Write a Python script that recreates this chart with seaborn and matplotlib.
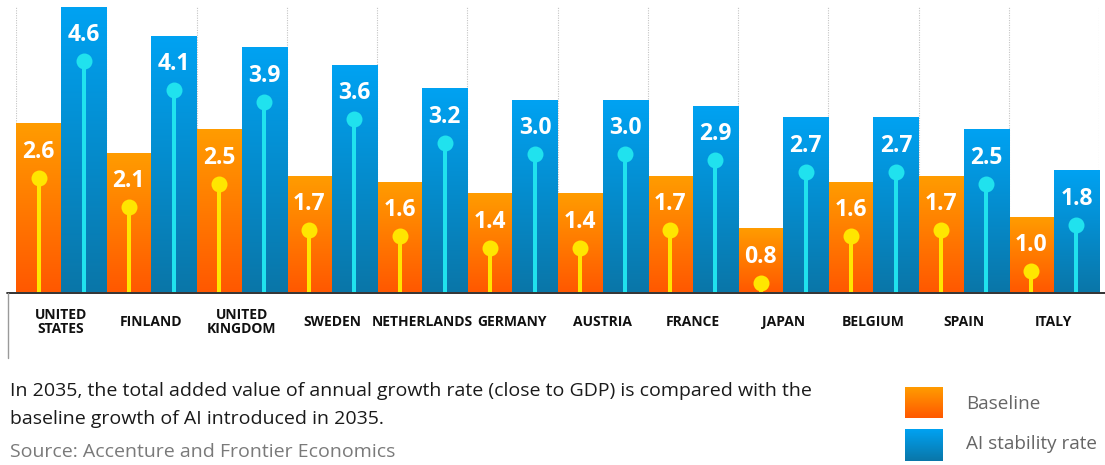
import numpy as np
import pandas as pd
import matplotlib
matplotlib.use("Agg")
import matplotlib.pyplot as plt
import seaborn as sns
from matplotlib.colors import LinearSegmentedColormap, to_rgba
from matplotlib.transforms import ScaledTranslation
from matplotlib.lines import Line2D

# ---------------- data ----------------
countries = ["UNITED\nSTATES", "FINLAND", "UNITED\nKINGDOM", "SWEDEN", "NETHERLANDS",
             "GERMANY", "AUSTRIA", "FRANCE", "JAPAN", "BELGIUM", "SPAIN", "ITALY"]
baseline = [2.6, 2.1, 2.5, 1.7, 1.6, 1.4, 1.4, 1.7, 0.8, 1.6, 1.7, 1.0]
ai_rate = [4.6, 4.1, 3.9, 3.6, 3.2, 3.0, 3.0, 2.9, 2.7, 2.7, 2.5, 1.8]
series = ["Baseline", "AI stability rate"]

caption_lines = ["In 2035, the total added value of annual growth rate (close to GDP) is compared with the",
                 "baseline growth of AI introduced in 2035."]
source_text = "Source: Accenture and Frontier Economics"

df = pd.DataFrame({
    "country": countries * 2,
    "series": [series[0]] * len(countries) + [series[1]] * len(countries),
    "value": baseline + ai_rate,
})

# ---------------- style ----------------
base_colors = {"Baseline": "#FF7A00", "AI stability rate": "#0090D8"}
grad_cmaps = {
    "Baseline": LinearSegmentedColormap.from_list("org", ["#FF5800", "#FF9C00"]),
    "AI stability rate": LinearSegmentedColormap.from_list("blu", ["#0A76A8", "#00A2F2"]),
}
stem_colors = {"Baseline": "#FFE600", "AI stability rate": "#20E2EE"}

sns.set_theme(style="white")
plt.rcParams["font.family"] = ["Open Sans", "DejaVu Sans"]

W, H = 1105, 465
fig = plt.figure(figsize=(W / 100, H / 100), dpi=100)
ax = fig.add_axes([16 / W, 1 - 292 / H, (1099 - 16) / W, 285 / H])

sns.barplot(data=df, x="country", y="value", hue="series", order=countries,
            hue_order=series, palette=[base_colors[s] for s in series],
            width=1.0, gap=0, saturation=1, errorbar=None, legend=False, ax=ax)

YMIN = -0.28
grad = np.linspace(0, 1, 256).reshape(-1, 1)
lab_off = ax.transData + ScaledTranslation(0, -0.28, fig.dpi_scale_trans)
dot_off = ax.transData + ScaledTranslation(0, -0.54, fig.dpi_scale_trans)

patches = list(ax.patches)
for p in patches:
    fc = p.get_facecolor()
    s = min(series, key=lambda k: np.sum((np.array(to_rgba(base_colors[k])) - np.array(fc)) ** 2))
    x0, w = p.get_x(), p.get_width()
    top = p.get_y() + p.get_height()
    xc = x0 + w / 2
    ax.imshow(grad, extent=[x0, x0 + w, YMIN, top], origin="lower", cmap=grad_cmaps[s],
              aspect="auto", zorder=2, interpolation="bilinear")
    p.set_visible(False)
    ax.plot([xc, xc], [YMIN, top], transform=dot_off, color=stem_colors[s],
            lw=2.9, solid_capstyle="butt", zorder=3, clip_on=True)
    ax.plot([xc], [top], transform=dot_off, marker="o", ms=11.5, color=stem_colors[s],
            mec="none", zorder=4, clip_on=False)
    ax.text(xc, top, f"{top:.1f}", transform=lab_off, ha="center", va="center",
            color="white", fontsize=16.5, fontweight="bold", zorder=5)

for b in np.arange(-0.5, len(countries), 1.0):
    ax.axvline(b, color="#c4c4c4", ls=(0, (1, 1.2)), lw=0.8, zorder=0)

ax.set_ylim(YMIN, max(ai_rate))
ax.set_xlim(-0.5, len(countries) - 0.5)
ax.set_yticks([])
ax.set_xlabel("")
ax.set_ylabel("")
for sp in ax.spines.values():
    sp.set_visible(False)
ax.tick_params(axis="x", length=0, pad=21.6)
for lab in ax.get_xticklabels():
    lab.set_fontweight("bold")
    lab.set_fontsize(10)
    lab.set_color("#111111")
    lab.set_va("center")
    lab.set_linespacing(1.05)

# frame lines
fig.add_artist(Line2D([7 / W, 1.0], [1 - 292.5 / H, 1 - 292.5 / H], color="#222222", lw=1.3))
fig.add_artist(Line2D([7.5 / W, 7.5 / W], [1 - 292.5 / H, 1 - 358 / H], color="#9a9a9a", lw=1.0))

# caption
fig.text(10 / W, 1 - 391 / H, caption_lines[0], ha="left", va="center", fontsize=14, color="#1a1a1a")
fig.text(10 / W, 1 - 419 / H, caption_lines[1], ha="left", va="center", fontsize=14, color="#1a1a1a")
fig.text(10 / W, 1 - 452 / H, source_text, ha="left", va="center", fontsize=14, color="#7a7a7a")

# legend with gradient swatches
sw_y = {"Baseline": (387, 418), "AI stability rate": (429, 461)}
lab_y = {"Baseline": 404, "AI stability rate": 444}
for s in series:
    y0, y1 = sw_y[s]
    sax = fig.add_axes([905 / W, 1 - y1 / H, 38 / W, (y1 - y0) / H])
    sax.imshow(grad, origin="lower", cmap=grad_cmaps[s], aspect="auto", extent=[0, 1, 0, 1])
    sax.set_axis_off()
    fig.text(966 / W, 1 - lab_y[s] / H, s, ha="left", va="center", fontsize=13.6, color="#666666")

fig.savefig("out.png", dpi=100)
